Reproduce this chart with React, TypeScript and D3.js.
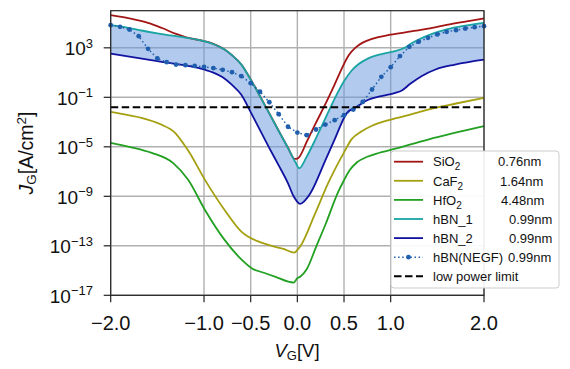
import React from 'react';
import * as d3 from 'd3';

// ---- data (log10 of J in A/cm^2) ----
const sio2V = [-2.0,-1.8,-1.6,-1.45,-1.3,-1.2,-1.0,-0.9,-0.78,-0.7,-0.6,-0.5,-0.4,-0.3,-0.2,-0.1,-0.03,0.0,0.03,0.1,0.2,0.3,0.4,0.48,0.55,0.62,0.7,0.8,1.0,1.2,1.4,1.6,1.8,2.0];
const sio2J = [5.64,5.38,5.02,4.6,4.12,3.86,3.55,3.32,2.86,2.4,1.65,0.45,-0.9,-2.3,-3.7,-5.08,-5.97,-5.95,-5.72,-4.6,-3.05,-1.55,0.05,1.38,2.4,3.0,3.42,3.72,4.06,4.3,4.55,4.85,5.12,5.38];

const hbn1V = [-2.0,-1.8,-1.67,-1.5,-1.3,-1.2,-1.0,-0.9,-0.78,-0.7,-0.6,-0.5,-0.4,-0.3,-0.2,-0.1,-0.02,0.02,0.1,0.2,0.3,0.4,0.5,0.58,0.65,0.76,0.9,1.01,1.15,1.22,1.3,1.45,1.6,1.8,2.0];
const hbn1J = [4.83,4.6,4.4,4.17,3.94,3.83,3.54,3.31,2.86,2.4,1.64,0.43,-0.92,-2.32,-3.72,-5.1,-6.25,-6.73,-5.8,-4.3,-2.7,-1.1,0.3,1.15,1.65,2.15,2.5,2.68,3.0,3.35,3.67,4.15,4.5,4.8,5.02];

const hbn2V = [-2.0,-1.5,-1.0,-0.9,-0.8,-0.7,-0.6,-0.5,-0.4,-0.3,-0.2,-0.1,-0.04,0.03,0.08,0.14,0.3,0.4,0.53,0.64,0.76,0.9,1.05,1.12,1.21,1.33,1.48,1.69,2.0];
const hbn2J = [2.54,1.92,1.25,1.0,0.62,0.0,-0.8,-2.2,-3.65,-5.1,-6.5,-7.95,-9.0,-9.61,-9.35,-8.75,-6.1,-4.4,-2.28,-1.74,-1.2,-0.9,-0.64,-0.45,0.09,0.71,1.25,1.65,2.05];

const caf2V = [-2.0,-1.8,-1.67,-1.46,-1.31,-1.22,-1.17,-0.99,-0.78,-0.6,-0.53,-0.4,-0.31,-0.15,-0.03,0.0,0.03,0.19,0.33,0.5,0.58,0.69,0.8,0.94,1.2,1.4,1.7,2.0];
const caf2J = [-2.17,-2.45,-2.66,-3.2,-3.87,-4.75,-5.3,-7.67,-10.1,-11.85,-12.25,-12.7,-12.93,-13.25,-13.55,-13.33,-13.06,-10.4,-7.94,-5.45,-4.4,-3.74,-3.3,-2.93,-2.42,-1.99,-1.5,-1.04];

const hfo2V = [-2.0,-1.8,-1.56,-1.33,-1.17,-0.99,-0.78,-0.6,-0.49,-0.35,-0.24,-0.04,0.0,0.03,0.1,0.2,0.3,0.44,0.5,0.56,0.64,0.75,0.87,1.0,1.4,2.0];
const hfo2J = [-4.68,-5.0,-5.49,-6.32,-7.67,-10.1,-12.52,-14.1,-14.81,-15.2,-15.49,-15.97,-15.62,-15.5,-14.9,-13.1,-11.3,-8.6,-7.7,-6.9,-6.25,-5.8,-5.5,-5.25,-4.41,-3.33];

const negfV = [-2.0,-1.9,-1.8,-1.7,-1.6,-1.5,-1.4,-1.3,-1.2,-1.1,-1.0,-0.9,-0.8,-0.7,-0.6,-0.5,-0.4,-0.3,-0.2,-0.1,0.0,0.1,0.2,0.3,0.4,0.5,0.6,0.7,0.8,0.9,1.0,1.1,1.2,1.3,1.4,1.5,1.6,1.7,1.8,1.9,2.0];
const negfJ = [4.83,4.70,4.48,3.94,2.92,2.14,1.84,1.65,1.60,1.54,1.46,1.36,1.22,1.03,0.71,0.14,-0.55,-1.40,-2.36,-3.38,-3.85,-4.06,-3.60,-3.20,-2.85,-2.44,-1.99,-1.37,-0.37,0.66,1.44,2.33,3.08,3.49,3.81,4.08,4.29,4.43,4.56,4.67,4.75];

const lowPowerLimitLog = -1.8;

const xTicks = [-2, -1, -0.5, 0, 0.5, 1, 2];
const xTickLabels = ['\u22122.0', '\u22121.0', '\u22120.5', '0.0', '0.5', '1.0', '2.0'];
const yTickExps = [3, -1, -5, -9, -13, -17];

const legendNames = ['SiO2', 'CaF2', 'HfO2', 'hBN_1', 'hBN_2', 'hBN(NEGF)', 'low power limit'];
const legendThickness = ['0.76nm', '1.64nm', '4.48nm', '0.99nm', '0.99nm', '0.99nm', ''];

// ---- styles ----
const C_SIO2 = '#a31515';
const C_CAF2 = '#a5a010';
const C_HFO2 = '#22a022';
const C_HBN1 = '#1aa3a3';
const C_HBN2 = '#1212a0';
const C_NEGF = '#1f5fae';
const FONT = '"Liberation Sans", Arial, Helvetica, sans-serif';

const W = 570, H = 369;
const L = 110.7, R = 484, T = 10.7, B = 295.3;

type P = [number, number];
const zipPts = (v: number[], j: number[]): P[] => v.map((x, i) => [x, Math.pow(10, j[i])]);

export default function App() {
  const x = d3.scaleLinear().domain([-2, 2]).range([L, R]);
  const y = d3.scaleLog().domain([1e-17, 1e6]).range([B, T]);

  const line = d3.line<P>().x(d => x(d[0])).y(d => y(d[1])).curve(d3.curveMonotoneX);
  const lineLin = d3.line<P>().x(d => x(d[0])).y(d => y(d[1]));

  const sio2 = zipPts(sio2V, sio2J);
  const hbn1 = zipPts(hbn1V, hbn1J);
  const hbn2 = zipPts(hbn2V, hbn2J);
  const caf2 = zipPts(caf2V, caf2J);
  const hfo2 = zipPts(hfo2V, hfo2J);
  const negf = zipPts(negfV, negfJ);

  const fillPath = (line(hbn1) as string) + 'L' + (line(hbn2.slice().reverse()) as string).slice(1) + 'Z';

  const series: { d: P[]; c: string }[] = [
    { d: sio2, c: C_SIO2 },
    { d: caf2, c: C_CAF2 },
    { d: hfo2, c: C_HFO2 },
    { d: hbn1, c: C_HBN1 },
    { d: hbn2, c: C_HBN2 },
  ];

  const legendColors = [C_SIO2, C_CAF2, C_HFO2, C_HBN1, C_HBN2, C_NEGF, '#000'];
  const legX = 391, legY = 151, legW = 168, legH = 137;
  const rowH = 19.1;
  const thickX = [498, 500, 501, 509, 509, 508, 0];
  const LFS = 13;

  const renderName = (n: string) => {
    const m = n.match(/^([A-Za-z]+)(2)$/);
    if (m && (n === 'SiO2' || n === 'CaF2' || n === 'HfO2')) {
      return (
        <>
          {m[1]}
          <tspan fontSize={10} dy={4}>{m[2]}</tspan>
        </>
      );
    }
    return n;
  };

  return (
    <svg width={W} height={H} style={{ position: 'fixed', left: 0, top: 0, background: '#fff' }} fontFamily={FONT}>
      <rect x={0} y={0} width={W} height={H} fill="#fff" />
      {/* grid */}
      {xTicks.map((t, i) => (
        <line key={'gx' + i} x1={x(t)} x2={x(t)} y1={T} y2={B} stroke="#b0b0b0" strokeWidth={1.4} />
      ))}
      {yTickExps.map((e, i) => (
        <line key={'gy' + i} x1={L} x2={R} y1={y(Math.pow(10, e))} y2={y(Math.pow(10, e))} stroke="#b0b0b0" strokeWidth={1.4} />
      ))}
      {/* fill between hBN_1 and hBN_2 */}
      <path d={fillPath} fill="rgb(100,150,222)" fillOpacity={0.5} stroke="none" />
      {/* lines */}
      {series.map((s, i) => (
        <path key={'s' + i} d={line(s.d) as string} fill="none" stroke={s.c} strokeWidth={1.8} />
      ))}
      <path d={lineLin(negf) as string} fill="none" stroke={C_NEGF} strokeWidth={1.5} strokeDasharray="1.5,2.6" />
      {negf.map((p, i) => (
        <circle key={'m' + i} cx={x(p[0])} cy={y(p[1])} r={2.4} fill={C_NEGF} />
      ))}
      {/* low power limit */}
      <line x1={L} x2={R} y1={y(Math.pow(10, lowPowerLimitLog))} y2={y(Math.pow(10, lowPowerLimitLog))} stroke="#000" strokeWidth={2} strokeDasharray="7.5,3.5" />
      {/* frame */}
      <rect x={L} y={T} width={R - L} height={B - T} fill="none" stroke="#222" strokeWidth={1.2} />
      {/* x ticks */}
      {xTicks.map((t, i) => (
        <g key={'xt' + i}>
          <line x1={x(t)} x2={x(t)} y1={B} y2={B + 7} stroke="#222" strokeWidth={1.2} />
          <text x={x(t)} y={330} textAnchor="middle" fontSize={20} fill="#111">{xTickLabels[i]}</text>
        </g>
      ))}
      {/* y ticks */}
      {yTickExps.map((e, i) => {
        const yy = y(Math.pow(10, e));
        return (
          <g key={'yt' + i}>
            <line x1={L - 7} x2={L} y1={yy} y2={yy} stroke="#222" strokeWidth={1.2} />
            <text x={93} y={yy + 7.3} textAnchor="end" fontSize={19} fill="#111">
              10<tspan fontSize={13} dy={-7.6}>{e < 0 ? '\u2212' + Math.abs(e) : String(e)}</tspan>
            </text>
          </g>
        );
      })}
      {/* axis labels */}
      <text x={297} y={357} textAnchor="middle" fontSize={18.5} fill="#111">
        <tspan fontStyle="italic">V</tspan>
        <tspan fontSize={13} dy={3}>G</tspan>
        <tspan dy={-3}>[V]</tspan>
      </text>
      <text transform="translate(33,153) rotate(-90)" textAnchor="middle" fontSize={19.5} fill="#111">
        <tspan fontStyle="italic">J</tspan>
        <tspan fontSize={13.5} dy={3}>G</tspan>
        <tspan dy={-3}>[A/cm</tspan>
        <tspan fontSize={13.5} dy={-7}>2</tspan>
        <tspan dy={7}>]</tspan>
      </text>
      {/* legend */}
      <rect x={legX} y={legY} width={legW} height={legH} rx={3} fill="#fff" fillOpacity={0.92} stroke="#cccccc" strokeWidth={1} />
      {legendNames.map((n, i) => {
        const cy = legY + 10.7 + i * rowH;
        const c = legendColors[i];
        return (
          <g key={'lg' + i}>
            {i < 5 && <line x1={394} x2={423} y1={cy} y2={cy} stroke={c} strokeWidth={1.8} />}
            {i === 5 && (
              <>
                <line x1={394} x2={423} y1={cy} y2={cy} stroke={c} strokeWidth={1.5} strokeDasharray="1.5,2.6" />
                <circle cx={408.5} cy={cy} r={2.4} fill={c} />
              </>
            )}
            {i === 6 && <line x1={394} x2={423} y1={cy} y2={cy} stroke="#000" strokeWidth={2} strokeDasharray="7.5,3.5" />}
            <text x={433} y={cy + 4.7} fontSize={LFS} fill="#111">{renderName(n)}</text>
            {legendThickness[i] && (
              <text x={thickX[i]} y={cy + 4.7} fontSize={LFS} fill="#111">{legendThickness[i]}</text>
            )}
          </g>
        );
      })}
    </svg>
  );
}
